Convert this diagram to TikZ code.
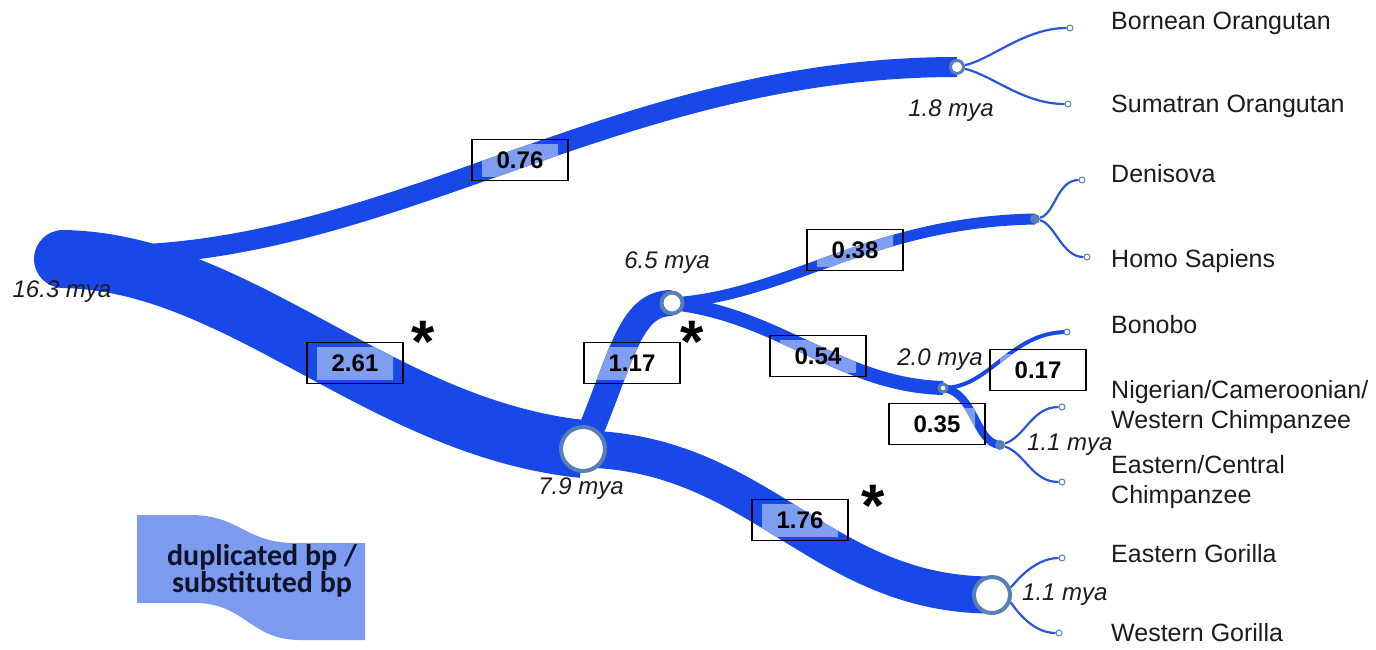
\documentclass[tikz,border=0pt]{standalone}
\usepackage{fontspec}
\setmainfont{Liberation Sans}
\newfontfamily\legendfont{Carlito}

\definecolor{branch}{RGB}{24,72,232}
\definecolor{dup}{RGB}{128,158,240}
\definecolor{legendfill}{RGB}{124,154,238}
\definecolor{ringc}{RGB}{88,128,180}
\definecolor{twigc}{RGB}{45,85,215}
\definecolor{txt}{RGB}{28,28,28}
\definecolor{legtxt}{RGB}{15,20,45}

\newcommand\szA{\fontsize{24}{29}\selectfont}
\newcommand\szB{\fontsize{25}{30}\selectfont}

% branch centre lines
\def\trunkpath{(root) .. controls (240,262) and (380,428) .. (n79)}
\def\orangpath{(fork) .. controls (400,250) and (620,67) .. (n18)}
\def\homininpath{(n79) .. controls (622,360) and (628,303) .. (n65)}
\def\gorillapath{(n79) .. controls (760,452) and (820,595) .. (ngor)}
\def\humanpath{(n65) .. controls (790,295) and (870,222) .. (nhum)}
\def\panpath{(n65) .. controls (780,315) and (840,385) .. (n20)}
\def\bonobopath{(n20) .. controls (990,388) and (1010,332) .. (lbon)}
\def\chimppath{(n20) .. controls (975,392) and (975,443) .. (nchi)}

% lighter segment of a branch inside a value box
\newcommand\dupseg[4]{%
  \begin{scope}
    \clip (#1-38,#2-16) rectangle (#1+38,#2+16);
    \draw[draw=dup, line width=#3pt] #4;
  \end{scope}}

\begin{document}
\begin{tikzpicture}[x=1pt,y=-1pt,
  limb/.style={draw=branch, line cap=butt},
  twig/.style={draw=twigc, line width=2.2pt},
  ringnode/.style={circle, draw=ringc, fill=white, inner sep=0pt},
  hub/.style={circle, fill=ringc, inner sep=0pt, minimum size=10pt},
  tipdot/.style={circle, draw=ringc, fill=white, inner sep=0pt, minimum size=6pt, line width=1pt},
  valbox/.style={draw=black, line width=1.8pt, minimum width=96pt, minimum height=41pt, inner sep=0pt, font=\bfseries\szA},
  age/.style={font=\itshape\szA, text=txt, inner sep=0pt},
  taxon/.style={font=\szB, text=txt, anchor=west, inner sep=0pt, text height=18pt, text depth=0pt},
  taxontwo/.style={font=\szB, text=txt, anchor=west, inner sep=0pt, align=left},
  starmark/.style={font=\bfseries\fontsize{60}{60}\selectfont, inner sep=0pt, anchor=base},
  legendline/.style={font=\legendfont\bfseries\fontsize{30}{30}\selectfont, text=legtxt, inner sep=0pt, anchor=base},
]
\useasboundingbox (0,0) rectangle (1376,649);

% branch points
\coordinate (root) at (63,259);
\coordinate (fork) at (120,255);
\coordinate (n18)  at (957,67);
\coordinate (n79)  at (583,449);
\coordinate (n65)  at (672,303);
\coordinate (ngor) at (992,595);
\coordinate (nhum) at (1035,219);
\coordinate (n20)  at (943,388);
\coordinate (nchi) at (1000,445);
\coordinate (lbon) at (1067,332);

% legend swatch
\fill[legendfill] (137,515) -- (190,515) .. controls (240,515) and (245,543) .. (295,543)
  -- (365,543) -- (365,640) -- (300,640) .. controls (250,640) and (245,603) .. (195,603)
  -- (137,603) -- cycle;
\node[legendline] (legendA) at (262,565) {duplicated bp /};
\node[legendline] (legendB) at (262,592) {substituted bp};

% branches
\fill[branch] (root) circle[radius=29pt];
\draw[limb, line width=58pt] \trunkpath;
\draw[limb, line width=20pt] \orangpath;
\draw[limb, line width=26pt] \homininpath;
\draw[limb, line width=37pt] \gorillapath;
\draw[limb, line width=11pt] \humanpath;
\draw[limb, line width=14pt] \panpath;
\draw[limb, line width=4pt] \bonobopath;
\draw[limb, line width=8pt] \chimppath;

% duplicated share of each branch
\dupseg{520}{160}{20}{\orangpath}
\dupseg{355}{363}{58}{\trunkpath}
\dupseg{632}{363}{26}{\homininpath}
\dupseg{855}{250}{11}{\humanpath}
\dupseg{818}{356}{14}{\panpath}
\dupseg{1038}{370}{4}{\bonobopath}
\dupseg{937}{424}{8}{\chimppath}
\dupseg{800}{520}{37}{\gorillapath}

% divergence nodes
\node[ringnode, minimum size=13pt, line width=3pt] (c18) at (n18) {};
\node[ringnode, minimum size=21pt, line width=4pt] (c65) at (n65) {};
\node[ringnode, minimum size=44pt, line width=4pt] (c79) at (n79) {};
\node[ringnode, minimum size=36pt, line width=4pt] (cgor) at (ngor) {};
\node[ringnode, minimum size=8pt, line width=3pt] (c20) at (n20) {};
\node[hub] (chum) at (nhum) {};
\node[hub] (cchi) at (nchi) {};

% leaf tips
\node[tipdot] (tbor) at (1070,28) {};
\node[tipdot] (tsum) at (1068,104) {};
\node[tipdot] (tden) at (1082,180) {};
\node[tipdot] (thom) at (1087,257) {};
\node[tipdot] (tbon) at (lbon) {};
\node[tipdot] (tnig) at (1062,407) {};
\node[tipdot] (teas) at (1062,482) {};
\node[tipdot] (tego) at (1062,558) {};
\node[tipdot] (twgo) at (1059,633) {};

% terminal twigs
\draw[twig] (c18) .. controls +(35,-8) and +(-45,0) .. (tbor);
\draw[twig] (c18) .. controls +(35,8) and +(-45,0) .. (tsum);
\draw[twig] (chum) .. controls +(20,-5) and +(-25,0) .. (tden);
\draw[twig] (chum) .. controls +(20,5) and +(-25,0) .. (thom);
\draw[twig] (cchi) .. controls +(25,-8) and +(-30,0) .. (tnig);
\draw[twig] (cchi) .. controls +(25,8) and +(-30,0) .. (teas);
\draw[twig] (cgor) .. controls +(20,-8) and +(-30,0) .. (tego);
\draw[twig] (cgor) .. controls +(20,8) and +(-30,0) .. (twgo);

% value boxes
\node[valbox] (v076) at (520,160) {0.76};
\node[valbox] (v261) at (355,363) {2.61};
\node[valbox] (v117) at (632,363) {1.17};
\node[valbox] (v038) at (855,250) {0.38};
\node[valbox] (v054) at (818,356) {0.54};
\node[valbox] (v017) at (1038,370) {0.17};
\node[valbox] (v035) at (937,424) {0.35};
\node[valbox] (v176) at (800,520) {1.76};

% significance marks
\node[starmark] (s1) at (423,362) {*};
\node[starmark] (s2) at (692,362) {*};
\node[starmark] (s3) at (873,526) {*};

% divergence times
\node[age] (a163) at (62,292) {16.3 mya};
\node[age] (a18)  at (951,111) {1.8 mya};
\node[age] (a65)  at (667,263) {6.5 mya};
\node[age] (a79)  at (581,489) {7.9 mya};
\node[age] (a20)  at (940,360) {2.0 mya};
\node[age, anchor=west] (a11c) at (1027,445) {1.1 mya};
\node[age, anchor=west] (a11g) at (1022,595) {1.1 mya};

% taxa
\node[taxon] (bor) at (1111,20) {Bornean Orangutan};
\node[taxon] (sum) at (1111,103) {Sumatran Orangutan};
\node[taxon] (den) at (1111,173) {Denisova};
\node[taxon] (hom) at (1111,258) {Homo Sapiens};
\node[taxon] (bon) at (1111,324) {Bonobo};
\node[taxontwo] (nig) at (1111,407) {Nigerian/Cameroonian/\\Western Chimpanzee};
\node[taxontwo] (eas) at (1111,482) {Eastern/Central\\Chimpanzee};
\node[taxon] (ego) at (1111,553) {Eastern Gorilla};
\node[taxon] (wgo) at (1111,632) {Western Gorilla};
\end{tikzpicture}
\end{document}
